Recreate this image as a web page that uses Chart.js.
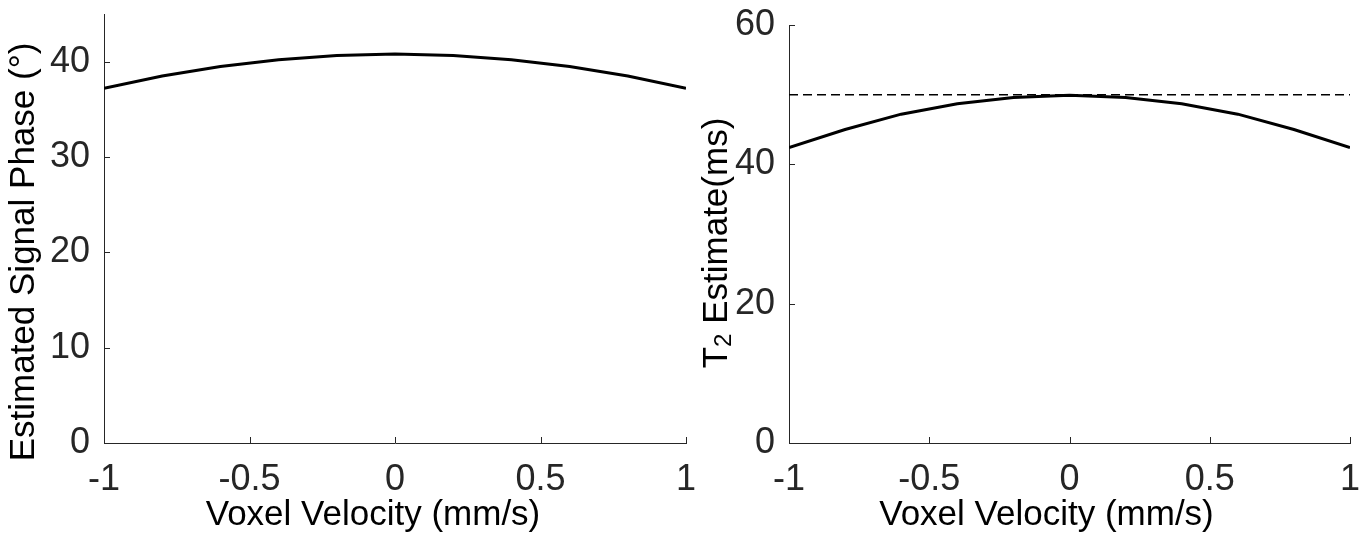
<!DOCTYPE html>
<html>
<head>
<meta charset="utf-8">
<script src="https://cdn.jsdelivr.net/npm/chart.js@4/dist/chart.umd.min.js"></script>
<style>
  html, body { margin: 0; padding: 0; background: #fff; }
  #wrap { position: relative; width: 1369px; height: 535px; overflow: hidden; }
  .box { position: absolute; top: 0; height: 535px; }
  #b1 { left: 0; width: 700px; }
  #b2 { left: 700px; width: 669px; }
</style>
</head>
<body>
<div id="wrap">
  <div class="box" id="b1"><canvas id="c1"></canvas></div>
  <div class="box" id="b2"><canvas id="c2"></canvas></div>
</div>
<script>
// ---- data ----
const velocity = [-1, -0.8, -0.6, -0.4, -0.2, 0, 0.2, 0.4, 0.6, 0.8, 1];
const signalPhase = [37.2, 38.5, 39.5, 40.2, 40.65, 40.8, 40.65, 40.2, 39.5, 38.5, 37.2];
const t2Estimate = [42.4, 45.0, 47.2, 48.7, 49.6, 49.9, 49.6, 48.7, 47.2, 45.0, 42.4];
const trueT2Velocity = [-1, 1];
const trueT2 = [50, 50];
const xTicks = [-1, -0.5, 0, 0.5, 1];
const phaseTicks = [0, 10, 20, 30, 40];
const t2Ticks = [0, 20, 40, 60];

const AXIS = '#262626';
const FONT = 'Liberation Sans, Arial, Helvetica, sans-serif';
const TICK_FONT = 36;
const TITLE_FONT = 35;

function pts(xs, ys) { return xs.map((x, i) => ({ x: x, y: ys[i] })); }

// inward MATLAB-style tick marks
const tickMarks = {
  id: 'tickMarks',
  afterDraw(chart) {
    const ctx = chart.ctx, a = chart.chartArea;
    const xs = chart.scales.x, ys = chart.scales.y;
    ctx.save();
    ctx.strokeStyle = AXIS; ctx.lineWidth = 1;
    ctx.beginPath();
    xs.ticks.forEach(t => {
      const p = Math.round(xs.getPixelForValue(t.value)) + 0.5;
      ctx.moveTo(p, a.bottom); ctx.lineTo(p, a.bottom - 6);
    });
    ys.ticks.forEach(t => {
      const p = Math.round(ys.getPixelForValue(t.value)) + 0.5;
      ctx.moveTo(a.left, p); ctx.lineTo(a.left + 6, p);
    });
    ctx.stroke();
    ctx.restore();
  }
};

// axis titles (drawn as canvas text)
function titlePlugin(cfg) {
  return {
    id: 'titles',
    afterDraw(chart) {
      const ctx = chart.ctx, a = chart.chartArea;
      ctx.save();
      ctx.fillStyle = '#000';
      ctx.font = TITLE_FONT + 'px ' + FONT;
      ctx.textBaseline = 'alphabetic';
      ctx.textAlign = 'center';
      ctx.fillText(cfg.xTitle, (a.left + a.right) / 2 + cfg.xShift, cfg.xBase);
      // y title rotated
      ctx.translate(cfg.yBase, cfg.yCenter);
      ctx.rotate(-Math.PI / 2);
      ctx.textAlign = 'left';
      const parts = cfg.yParts;
      let total = 0;
      parts.forEach(p => {
        ctx.font = p.size + 'px ' + FONT;
        p.w = ctx.measureText(p.text).width;
        total += p.w;
      });
      let x = -total / 2;
      parts.forEach(p => {
        ctx.font = p.size + 'px ' + FONT;
        ctx.fillText(p.text, x, p.dy || 0);
        x += p.w;
      });
      ctx.restore();
    }
  };
}

function makeChart(id, datasets, yMin, yMax, yTicks, yWidth, padRight, padTop, titles) {
  return new Chart(document.getElementById(id), {
    type: 'line',
    data: { datasets: datasets },
    options: {
      responsive: true,
      maintainAspectRatio: false,
      animation: false,
      events: [],
      layout: { padding: { left: 0, right: padRight, top: padTop, bottom: 0 } },
      plugins: { legend: { display: false }, tooltip: { enabled: false } },
      elements: { point: { radius: 0 } },
      scales: {
        x: {
          type: 'linear', min: -1, max: 1,
          grid: { display: false, drawTicks: false },
          border: { display: true, color: AXIS, width: 1 },
          afterBuildTicks: s => { s.ticks = xTicks.map(v => ({ value: v })); },
          afterFit: s => { s.height = 92; s.paddingLeft = 0; s.paddingRight = 0; },
          ticks: {
            color: AXIS, padding: 15, maxRotation: 0, autoSkip: false,
            font: { family: FONT, size: TICK_FONT },
            callback: v => String(v)
          }
        },
        y: {
          type: 'linear', min: yMin, max: yMax,
          grid: { display: false, drawTicks: false },
          border: { display: true, color: AXIS, width: 1 },
          afterBuildTicks: s => { s.ticks = yTicks.map(v => ({ value: v })); },
          afterFit: s => { s.width = yWidth; s.paddingTop = 0; s.paddingBottom = 0; },
          ticks: {
            color: AXIS, padding: 14, autoSkip: false,
            font: { family: FONT, size: TICK_FONT },
            callback: v => String(v)
          }
        }
      }
    },
    plugins: [tickMarks, titlePlugin(titles)]
  });
}

makeChart('c1', [
  { data: pts(velocity, signalPhase), borderColor: '#000', borderWidth: 3, fill: false, tension: 0 }
], 0, 45, phaseTicks, 104, 14, 14, {
  xTitle: 'Voxel Velocity (mm/s)', xBase: 525, xShift: -22,
  yBase: 34, yCenter: 252,
  yParts: [{ text: 'Estimated Signal Phase (°)', size: TITLE_FONT }]
});

makeChart('c2', [
  { data: pts(trueT2Velocity, trueT2), borderColor: '#000', borderWidth: 1.5, borderDash: [9, 5], fill: false },
  { data: pts(velocity, t2Estimate), borderColor: '#000', borderWidth: 3, fill: false, tension: 0 }
], 0, 60, t2Ticks, 89, 19, 25, {
  xTitle: 'Voxel Velocity (mm/s)', xBase: 525, xShift: -23,
  yBase: 27, yCenter: 243,
  yParts: [
    { text: 'T', size: TITLE_FONT },
    { text: '2', size: 24, dy: 4 },
    { text: ' Estimate(ms)', size: TITLE_FONT }
  ]
});
</script>
</body>
</html>
